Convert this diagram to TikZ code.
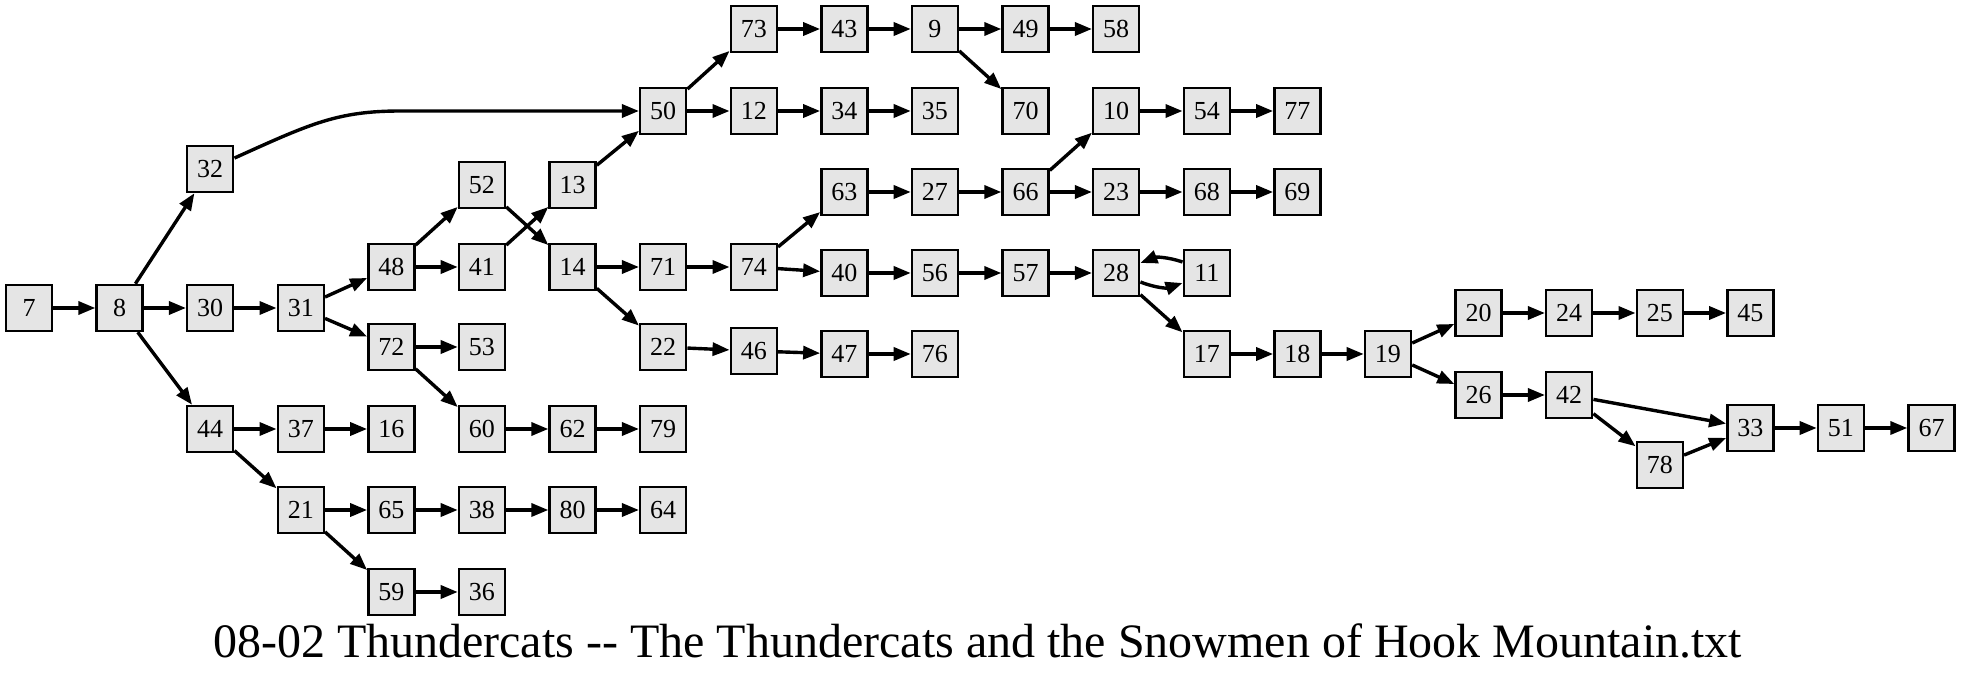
\documentclass[tikz,border=0pt]{standalone}
\usepackage{fontspec}
\setmainfont{Liberation Serif}
\newfontfamily\titlefont{Liberation Serif}
\usetikzlibrary{arrows.meta}
\definecolor{colorState}{RGB}{229, 229, 229}
\tikzstyle{state} = [rectangle, minimum width=46pt, minimum height=46pt, inner sep=0pt, text centered, draw=black, line width=2.5pt, fill=colorState, font=\fontsize{26}{30}\selectfont]
\tikzstyle{arrow} = [line width=3.4pt, -{Triangle[length=17pt, width=13pt]}]
\tikzstyle{title} = [anchor=base, font=\titlefont\fontsize{48}{54}\selectfont]

\begin{document}
\begin{tikzpicture}[x=90.6pt, y=-1pt]

		\useasboundingbox (-0.3201,0) rectangle (21.347,680);

		% start
		\node (n7)[state] at (0,308) {7};
		\node (n8)[state] at (1,308) {8};

		% upper branch
		\node (n32)[state] at (2,169) {32};
		\node (n50)[state] at (7,111) {50};
		\node (n73)[state] at (8,29) {73};
		\node (n43)[state] at (9,29) {43};
		\node (n9)[state] at (10,29) {9};
		\node (n49)[state] at (11,29) {49};
		\node (n58)[state] at (12,29) {58};
		\node (n70)[state] at (11,111) {70};
		\node (n12)[state] at (8,111) {12};
		\node (n34)[state] at (9,111) {34};
		\node (n35)[state] at (10,111) {35};

		% middle branch
		\node (n30)[state] at (2,308) {30};
		\node (n31)[state] at (3,308) {31};
		\node (n48)[state] at (4,267) {48};
		\node (n52)[state] at (5,185) {52};
		\node (n41)[state] at (5,267) {41};
		\node (n13)[state] at (6,185) {13};
		\node (n14)[state] at (6,267) {14};
		\node (n71)[state] at (7,267) {71};
		\node (n22)[state] at (7,347) {22};
		\node (n46)[state] at (8,351) {46};
		\node (n47)[state] at (9,354) {47};
		\node (n76)[state] at (10,354) {76};
		\node (n74)[state] at (8,267) {74};
		\node (n63)[state] at (9,192) {63};
		\node (n27)[state] at (10,192) {27};
		\node (n66)[state] at (11,192) {66};
		\node (n10)[state] at (12,111) {10};
		\node (n54)[state] at (13,111) {54};
		\node (n77)[state] at (14,111) {77};
		\node (n23)[state] at (12,192) {23};
		\node (n68)[state] at (13,192) {68};
		\node (n69)[state] at (14,192) {69};
		\node (n40)[state] at (9,273) {40};
		\node (n56)[state] at (10,273) {56};
		\node (n57)[state] at (11,273) {57};
		\node (n28)[state] at (12,273) {28};
		\node (n11)[state] at (13,273) {11};
		\node (n17)[state] at (13,354) {17};
		\node (n18)[state] at (14,354) {18};
		\node (n19)[state] at (15,354) {19};
		\node (n20)[state] at (16,313) {20};
		\node (n24)[state] at (17,313) {24};
		\node (n25)[state] at (18,313) {25};
		\node (n45)[state] at (19,313) {45};
		\node (n26)[state] at (16,395) {26};
		\node (n42)[state] at (17,395) {42};
		\node (n78)[state] at (18,465) {78};
		\node (n33)[state] at (19,428) {33};
		\node (n51)[state] at (20,428) {51};
		\node (n67)[state] at (21,428) {67};
		\node (n72)[state] at (4,347) {72};
		\node (n53)[state] at (5,347) {53};
		\node (n60)[state] at (5,429) {60};
		\node (n62)[state] at (6,429) {62};
		\node (n79)[state] at (7,429) {79};

		% lower branch
		\node (n44)[state] at (2,429) {44};
		\node (n37)[state] at (3,429) {37};
		\node (n16)[state] at (4,429) {16};
		\node (n21)[state] at (3,510) {21};
		\node (n65)[state] at (4,510) {65};
		\node (n38)[state] at (5,510) {38};
		\node (n80)[state] at (6,510) {80};
		\node (n64)[state] at (7,510) {64};
		\node (n59)[state] at (4,592) {59};
		\node (n36)[state] at (5,592) {36};

		% file name
		\node (title)[title] at (10.47,658) {08-02 Thundercats -- The Thundercats and the Snowmen of Hook Mountain.txt};

		% lines and arrows
		\draw[arrow] (n7) -- (n8);
		\draw[arrow] (n8) -- (n32);
		\draw[arrow] (n8) -- (n30);
		\draw[arrow] (n8) -- (n44);
		\draw[arrow] (n32) .. controls (3.1,124) and (3.4,111) .. (4.1,111) -- (n50);
		\draw[arrow] (n50) -- (n73);
		\draw[arrow] (n50) -- (n12);
		\draw[arrow] (n73) -- (n43);
		\draw[arrow] (n43) -- (n9);
		\draw[arrow] (n9) -- (n49);
		\draw[arrow] (n49) -- (n58);
		\draw[arrow] (n9) -- (n70);
		\draw[arrow] (n12) -- (n34);
		\draw[arrow] (n34) -- (n35);

		\draw[arrow] (n30) -- (n31);
		\draw[arrow] (n31) -- (n48);
		\draw[arrow] (n31) -- (n72);
		\draw[arrow] (n48) -- (n52);
		\draw[arrow] (n48) -- (n41);
		\draw[arrow] (n41) -- (n13);
		\draw[arrow] (n52) -- (n14);
		\draw[arrow] (n13) -- (n50);
		\draw[arrow] (n14) -- (n71);
		\draw[arrow] (n14) -- (n22);
		\draw[arrow] (n22) -- (n46);
		\draw[arrow] (n46) -- (n47);
		\draw[arrow] (n47) -- (n76);
		\draw[arrow] (n71) -- (n74);
		\draw[arrow] (n74) -- (n63);
		\draw[arrow] (n74) -- (n40);
		\draw[arrow] (n63) -- (n27);
		\draw[arrow] (n27) -- (n66);
		\draw[arrow] (n66) -- (n10);
		\draw[arrow] (n66) -- (n23);
		\draw[arrow] (n10) -- (n54);
		\draw[arrow] (n54) -- (n77);
		\draw[arrow] (n23) -- (n68);
		\draw[arrow] (n68) -- (n69);
		\draw[arrow] (n40) -- (n56);
		\draw[arrow] (n56) -- (n57);
		\draw[arrow] (n57) -- (n28);
		\draw[arrow] ([yshift=11pt]n11.west) to[bend right=20] ([yshift=10pt]n28.east);
		\draw[arrow] ([yshift=-9pt]n28.east) to[bend right=20] ([yshift=-10pt]n11.west);
		\draw[arrow] (n28) -- (n17);
		\draw[arrow] (n17) -- (n18);
		\draw[arrow] (n18) -- (n19);
		\draw[arrow] (n19) -- (n20);
		\draw[arrow] (n19) -- (n26);
		\draw[arrow] (n20) -- (n24);
		\draw[arrow] (n24) -- (n25);
		\draw[arrow] (n25) -- (n45);
		\draw[arrow] (n26) -- (n42);
		\draw[arrow] (n42) -- (n33);
		\draw[arrow] (n42) -- (n78);
		\draw[arrow] (n78) -- (n33);
		\draw[arrow] (n33) -- (n51);
		\draw[arrow] (n51) -- (n67);
		\draw[arrow] (n72) -- (n53);
		\draw[arrow] (n72) -- (n60);
		\draw[arrow] (n60) -- (n62);
		\draw[arrow] (n62) -- (n79);

		\draw[arrow] (n44) -- (n37);
		\draw[arrow] (n37) -- (n16);
		\draw[arrow] (n44) -- (n21);
		\draw[arrow] (n21) -- (n65);
		\draw[arrow] (n65) -- (n38);
		\draw[arrow] (n38) -- (n80);
		\draw[arrow] (n80) -- (n64);
		\draw[arrow] (n21) -- (n59);
		\draw[arrow] (n59) -- (n36);

	\end{tikzpicture}
\end{document}
